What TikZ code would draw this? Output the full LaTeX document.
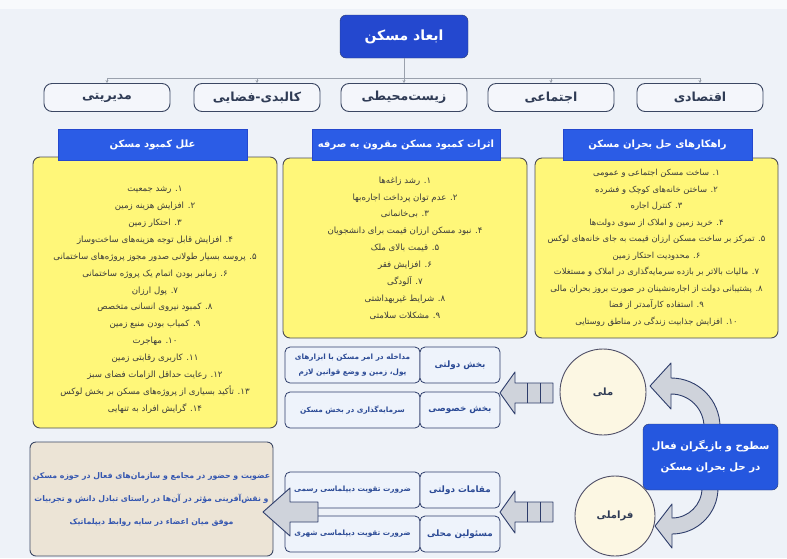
\documentclass[tikz,border=0pt]{standalone}
\usepackage{fontspec}
\usetikzlibrary{arrows.meta}
\newfontfamily\farsi[Script=Arabic]{DejaVu Sans}
\TeXXeTstate=1
\newcommand{\fa}[1]{\beginR #1\endR}

\definecolor{bgpage}{HTML}{EEF2F8}
\definecolor{titleblue}{HTML}{2448CF}
\definecolor{headblue}{HTML}{2B5CE6}
\definecolor{actorblue}{HTML}{2557DF}
\definecolor{dimfill}{HTML}{F4F6FB}
\definecolor{dimline}{HTML}{3B4763}
\definecolor{dimtext}{HTML}{2F3B55}
\definecolor{yellowfill}{HTML}{FFF779}
\definecolor{yellowline}{HTML}{4B4B55}
\definecolor{listtext}{HTML}{3A3A3A}
\definecolor{cellfill}{HTML}{EEF3FB}
\definecolor{cellline}{HTML}{2E3D6B}
\definecolor{celltext}{HTML}{2B4A95}
\definecolor{circfill}{HTML}{FCF7E3}
\definecolor{circline}{HTML}{4E4E66}
\definecolor{beigefill}{HTML}{ECE4D6}
\definecolor{beigetext}{HTML}{3456B0}
\definecolor{arrowfill}{HTML}{CFD3DB}
\definecolor{connline}{HTML}{9AA1AD}

\tikzset{
  titlebox/.style={draw=cellline, fill=titleblue, rounded corners=6pt, text=white,
    font=\farsi\bfseries\fontsize{14}{16}\selectfont, minimum width=128pt, minimum height=43pt, inner sep=0pt},
  dimbox/.style={draw=dimline, fill=dimfill, rounded corners=8pt, text=dimtext, line width=0.9pt,
    font=\farsi\bfseries\fontsize{12.5}{14}\selectfont, minimum width=126pt, minimum height=28pt, inner sep=0pt},
  headbox/.style={draw=titleblue, fill=headblue, text=white,
    font=\farsi\bfseries\fontsize{10}{12}\selectfont, minimum width=189pt, minimum height=31pt, inner sep=0pt},
  listbox/.style={draw=yellowline, fill=yellowfill, rounded corners=7pt, text=listtext, line width=0.9pt,
    align=center, minimum width=244pt, inner sep=0pt},
  cellbox/.style={draw=cellline, fill=cellfill, rounded corners=5pt, text=celltext, line width=0.8pt,
    align=center, font=\farsi\bfseries\fontsize{7.3}{15}\selectfont, minimum width=135pt, minimum height=36pt, inner sep=0pt},
  labelbox/.style={cellbox, font=\farsi\bfseries\fontsize{8.8}{10}\selectfont, minimum width=80pt},
  circ/.style={circle, draw=circline, fill=circfill, line width=0.9pt, text=dimtext,
    font=\farsi\bfseries\fontsize{10}{12}\selectfont, inner sep=0pt},
  actorbox/.style={draw=cellline, fill=actorblue, rounded corners=6pt, text=white, align=center,
    font=\farsi\bfseries\fontsize{10.2}{21}\selectfont, minimum width=135pt, minimum height=66pt, inner sep=0pt},
  beigebox/.style={draw=dimline, fill=beigefill, rounded corners=6pt, text=beigetext, align=center, line width=0.9pt,
    font=\farsi\bfseries\fontsize{7.8}{23}\selectfont, minimum width=243pt, minimum height=114pt, inner sep=0pt},
  blockarrow/.style={draw=cellline, fill=arrowfill, line width=0.9pt, line join=round},
  conn/.style={draw=connline, line width=0.8pt},
}

\begin{document}
\begin{tikzpicture}[x=1pt,y=-1pt]
  \fill[bgpage] (0,0) rectangle (787,558);
  \fill[white!60!bgpage] (0,0) rectangle (787,9);
  \useasboundingbox (0,0) rectangle (787,558);

  % title and dimensions
  \node[titlebox] (title) at (404,36.5) {\fa{ابعاد مسکن}};
  \node[dimbox] (dim1) at (107,97.5) {\fa{مدیریتی}};
  \node[dimbox] (dim2) at (257,97.5) {\fa{کالبدی-فضایی}};
  \node[dimbox] (dim3) at (404,97.5) {\fa{زیست‌محیطی}};
  \node[dimbox] (dim4) at (551,97.5) {\fa{اجتماعی}};
  \node[dimbox] (dim5) at (700,97.5) {\fa{اقتصادی}};
  \coordinate (bus) at (404,78);
  \draw[conn] (title.south) -- (bus);
  \draw[conn] (dim1.north |- bus) -- (dim5.north |- bus);
  \foreach \n in {1,...,5}
    \draw[conn,-{Stealth[length=3pt,width=3pt]}] (dim\n.north |- bus) -- (dim\n.north);

  % the three lists
  \node[listbox, minimum height=271pt, font=\farsi\fontsize{8.6}{16.9}\selectfont] (causes) at (155,292.5) {%
    \rule{0pt}{20pt}\fa{۱. رشد جمعیت}\\
    \fa{۲. افزایش هزینه زمین}\\
    \fa{۳. احتکار زمین}\\
    \fa{۴. افزایش قابل توجه هزینه‌های ساخت‌وساز}\\
    \fa{۵. پروسه بسیار طولانی صدور مجوز پروژه‌های ساختمانی}\\
    \fa{۶. زمانبر بودن اتمام یک پروژه ساختمانی}\\
    \fa{۷. پول ارزان}\\
    \fa{۸. کمبود نیروی انسانی متخصص}\\
    \fa{۹. کمیاب بودن منبع زمین}\\
    \fa{۱۰. مهاجرت}\\
    \fa{۱۱. کاربری رقابتی زمین}\\
    \fa{۱۲. رعایت حداقل الزامات فضای سبز}\\
    \fa{۱۳. تأکید بسیاری از پروژه‌های مسکن بر بخش لوکس}\\
    \fa{۱۴. گرایش افراد به تنهایی}};
  \node[listbox, minimum height=180pt, font=\farsi\fontsize{8.6}{16.9}\selectfont] (effects) at (405,248) {%
    \fa{۱. رشد زاغه‌ها}\\
    \fa{۲. عدم توان پرداخت اجاره‌بها}\\
    \fa{۳. بی‌خانمانی}\\
    \fa{۴. نبود مسکن ارزان قیمت برای دانشجویان}\\
    \fa{۵. قیمت بالای ملک}\\
    \fa{۶. افزایش فقر}\\
    \fa{۷. آلودگی}\\
    \fa{۸. شرایط غیربهداشتی}\\
    \fa{۹. مشکلات سلامتی}};
  \node[listbox, minimum width=243pt, minimum height=180pt, font=\farsi\fontsize{8.4}{16.5}\selectfont] (cures) at (656.5,248) {%
    \fa{۱. ساخت مسکن اجتماعی و عمومی}\\
    \fa{۲. ساختن خانه‌های کوچک و فشرده}\\
    \fa{۳. کنترل اجاره}\\
    \fa{۴. خرید زمین و املاک از سوی دولت‌ها}\\
    \fa{۵. تمرکز بر ساخت مسکن ارزان قیمت به جای خانه‌های لوکس}\\
    \fa{۶. محدودیت احتکار زمین}\\
    \fa{۷. مالیات بالاتر بر بازده سرمایه‌گذاری در املاک و مستغلات}\\
    \fa{۸. پشتیبانی دولت از اجاره‌نشینان در صورت بروز بحران مالی}\\
    \fa{۹. استفاده کارآمدتر از فضا}\\
    \fa{۱۰. افزایش جذابیت زندگی در مناطق روستایی}};
  \node[headbox] (hcauses) at (152.5,145) {\fa{علل کمبود مسکن}};
  \node[headbox, minimum width=188pt] (heffects) at (406,145) {\fa{اثرات کمبود مسکن مقرون به صرفه}};
  \node[headbox] (hcures) at (657.5,145) {\fa{راهکارهای حل بحران مسکن}};

  % actors
  \draw[blockarrow] (720,431) -- (720,427) arc[start angle=0, end angle=-90, radius=49]
    -- (671,363) -- (650,386) -- (671,409) -- (671,394)
    arc[start angle=-90, end angle=0, radius=33] -- (704,431) -- cycle;
  \draw[blockarrow] (718,486) -- (718,488) arc[start angle=0, end angle=90, radius=46]
    -- (672,548) -- (655,526) -- (672,504) -- (672,518)
    arc[start angle=90, end angle=0, radius=30] -- (702,486) -- cycle;
  \node[actorbox] (actors) at (710.5,457) {\fa{سطوح و بازیگران فعال}\\\fa{در حل بحران  مسکن}};
  \node[circ, minimum size=86pt] (meli) at (603,392) {\fa{ملی}};
  \node[circ, minimum size=80pt] (farameli) at (615,516) {\fa{فراملی}};

  \foreach \yy in {393,512} {
    \draw[blockarrow] (500,\yy) -- (515,\yy-21) -- (515,\yy-10) -- (553,\yy-10)
      -- (553,\yy+10) -- (515,\yy+10) -- (515,\yy+21) -- cycle;
    \draw[draw=cellline, line width=0.9pt] (527,\yy-10) -- (527,\yy+10) (540,\yy-10) -- (540,\yy+10);
  }

  \node[cellbox] (govdesc) at (352.5,365) {\fa{مداخله در امر مسکن با ابزارهای}\\\fa{پول، زمین و وضع قوانین لازم}};
  \node[labelbox] (gov) at (460,365) {\fa{بخش دولتی}};
  \node[cellbox] (privdesc) at (352.5,410) {\fa{سرمایه‌گذاری در بخش مسکن}};
  \node[labelbox] (priv) at (460,410) {\fa{بخش خصوصی}};
  \node[cellbox] (offdesc) at (352.5,490) {\fa{ضرورت تقویت دیپلماسی رسمی}};
  \node[labelbox] (off) at (460,490) {\fa{مقامات دولتی}};
  \node[cellbox] (locdesc) at (352.5,534) {\fa{ضرورت تقویت دیپلماسی شهری}};
  \node[labelbox] (loc) at (460,534) {\fa{مسئولین محلی}};

  \node[beigebox] (beige) at (151.5,499) {%
    \fa{عضویت و حضور در مجامع و سازمان‌های فعال در حوزه مسکن}\\
    \fa{و نقش‌آفرینی مؤثر در آن‌ها در راستای تبادل دانش و تجربیات}\\
    \fa{موفق  میان اعضاء در سایه روابط دیپلماتیک}};
  \draw[blockarrow] (263,512) -- (290,488) -- (290,502) -- (318,502)
    -- (318,522) -- (290,522) -- (290,536) -- cycle;
\end{tikzpicture}
\end{document}
